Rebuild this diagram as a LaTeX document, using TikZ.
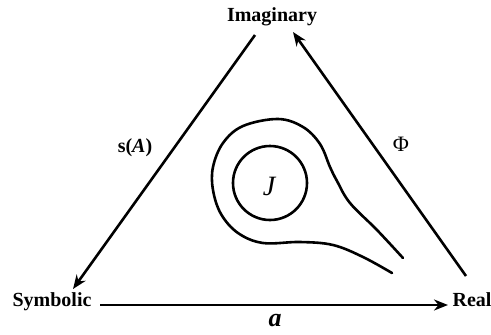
\documentclass[tikz,border=0pt]{standalone}
\usepackage{fontspec}
\setmainfont{Liberation Serif}
\usetikzlibrary{arrows.meta}
\begin{document}
\begin{tikzpicture}[x=1pt,y=-1pt,
  lbl/.style={font=\fontsize{20}{22}\selectfont\bfseries, inner sep=0pt},
  edge/.style={line width=2.6pt, -{Stealth[length=14pt,width=11pt]}},
  curve/.style={line width=2.6pt, line cap=round}]
\useasboundingbox (0,0) rectangle (491,335);
\node[lbl] (imag) at (272,17) {Imaginary};
\node[lbl] (symb) at (52,302) {Symbolic};
\node[lbl] (real) at (472,300) {Real};
\coordinate (l1) at (255,35);
\coordinate (l2) at (73,289);
\coordinate (r1) at (466,276);
\coordinate (r2) at (293,32);
\coordinate (b1) at (100,305);
\coordinate (b2) at (448,305);
\draw[edge] (l1) -- (l2);
\draw[edge] (r1) -- (r2);
\draw[edge] (b1) -- (b2);
\node[lbl] (sA) at (135,148) {s(\textit{A})};
\node[font=\fontsize{22}{24}\selectfont, inner sep=0pt] (phi) at (401,144) {Φ};
\node[font=\fontsize{26}{28}\selectfont\bfseries\itshape, inner sep=0pt] (alab) at (275,321) {a};
\node[draw, circle, line width=2.6pt, minimum size=74pt, inner sep=0pt] (jc) at (270,183) {};
\node[font=\fontsize{28}{30}\selectfont\itshape, inner sep=0pt] (jl) at (269,186) {J};
\draw[curve] plot[smooth, tension=0.6] coordinates {(403,258) (377,230) (350,203) (337,181) (330,167) (320,144) (303,127) (278,119) (243,126) (223,143) (213,167) (213,190) (221,214) (238,233) (263,243) (300,242) (333,245) (363,257) (392,273)};
\end{tikzpicture}
\end{document}
